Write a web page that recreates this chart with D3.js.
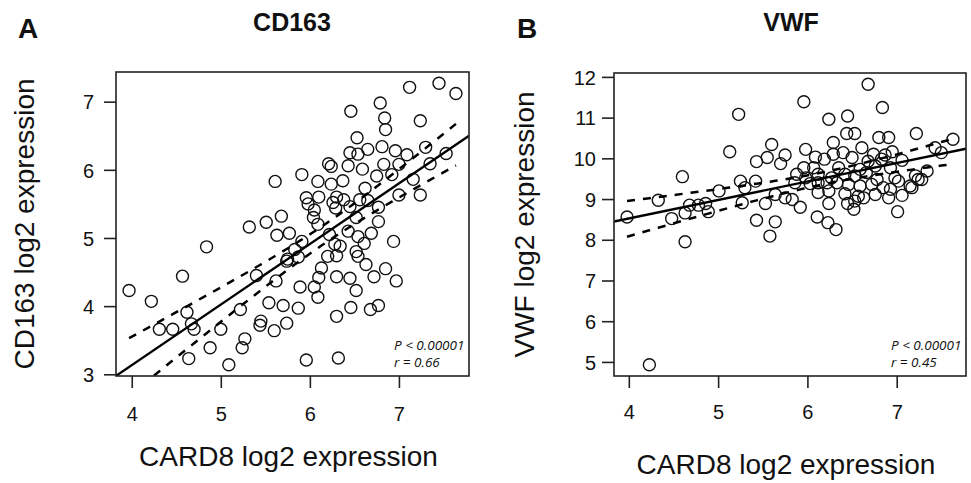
<!DOCTYPE html>
<html>
<head>
<meta charset="utf-8">
<script src="https://cdn.jsdelivr.net/npm/d3@7"></script>
<style>
  body { margin: 0; background: #fff; }
  svg text { font-family: Arial, "Liberation Sans", sans-serif; fill: #111; }
  .stat { font-family: "Open Sans", sans-serif; font-style: italic; }
</style>
</head>
<body>
<svg id="chart" width="971" height="483"></svg>
<script>
// values (CARD8 on x in both panels)
const card8A = [7.12,7.45,7.64,6.79,6.46,6.84,7.24,6.85,6.53,6.65,6.81,6.96,6.45,6.54,7.09,7.30,7.53,7.35,6.21,6.24,
  6.43,6.59,6.83,7.00,5.91,6.75,6.92,6.37,6.09,5.61,6.24,7.16,6.62,7.00,7.24,5.96,6.10,6.30,6.38,6.56,
  5.98,6.26,6.65,6.77,6.05,6.29,6.45,6.04,6.52,5.68,5.51,5.32,6.09,6.77,5.63,5.77,6.43,6.22,6.54,6.69,
  6.94,5.91,6.28,6.34,6.61,4.84,5.83,6.52,6.54,6.20,6.30,5.75,5.87,5.74,6.63,6.85,6.13,4.57,5.40,6.30,
  6.45,6.72,6.97,6.10,5.62,6.05,5.89,6.52,3.97,6.09,4.22,5.54,5.70,5.87,6.46,6.68,6.77,6.30,4.62,5.22,
  4.67,4.31,4.46,4.70,5.45,5.44,5.74,5.00,5.60,5.27,5.24,4.88,4.64,5.09,5.96,6.32];
const cd163 = [7.21,7.27,7.12,6.98,6.86,6.76,6.72,6.59,6.47,6.30,6.34,6.28,6.25,6.23,6.22,6.33,6.24,6.09,6.09,6.05,
  6.06,6.01,6.08,6.08,5.93,5.91,5.93,5.84,5.83,5.83,5.79,5.86,5.73,5.63,5.63,5.59,5.60,5.60,5.56,5.56,
  5.50,5.52,5.55,5.45,5.41,5.44,5.46,5.30,5.30,5.32,5.23,5.16,5.20,5.24,5.04,5.07,5.10,5.05,5.02,5.07,
  4.95,4.95,4.91,4.88,4.92,4.87,4.83,4.80,4.73,4.73,4.74,4.69,4.72,4.66,4.61,4.55,4.56,4.44,4.45,4.43,
  4.41,4.43,4.37,4.42,4.37,4.28,4.28,4.23,4.23,4.13,4.07,4.05,4.01,3.97,3.98,3.95,4.01,3.85,3.91,3.95,
  3.74,3.66,3.66,3.66,3.78,3.72,3.75,3.66,3.64,3.52,3.39,3.39,3.23,3.14,3.21,3.24];

const card8B = [6.68,5.96,6.84,5.23,6.24,6.45,6.44,6.53,6.29,6.80,6.91,7.22,7.63,5.60,5.98,6.61,6.74,6.40,6.29,5.13,
  5.75,5.55,5.43,5.70,6.09,6.19,6.95,7.43,7.50,7.06,6.87,6.68,6.83,6.50,5.96,6.07,6.35,6.59,6.76,6.93,
  4.60,5.25,5.42,5.88,5.98,6.12,6.27,6.42,6.53,6.66,6.78,6.98,7.21,7.34,7.24,5.86,6.03,6.12,6.22,6.33,
  6.46,6.59,6.72,6.85,7.02,7.15,7.28,5.30,5.01,4.33,5.64,5.75,6.12,6.24,6.42,6.57,6.76,6.93,7.06,7.17,
  4.68,4.78,4.86,5.53,5.83,5.92,6.24,6.45,6.53,6.63,6.91,4.89,4.63,4.48,3.98,5.27,6.52,7.01,6.11,6.23,
  6.32,5.43,5.64,5.58,4.63,4.23];
const vwf = [11.82,11.39,11.25,11.08,10.96,11.04,10.61,10.61,10.39,10.51,10.51,10.61,10.47,10.34,10.22,10.26,10.10,10.14,10.10,10.16,
  10.08,10.02,9.92,9.87,10.03,9.98,10.16,10.26,10.14,9.95,10.08,9.93,9.98,10.02,9.77,9.77,9.77,9.73,9.81,9.77,
  9.55,9.44,9.44,9.61,9.52,9.61,9.52,9.61,9.57,9.65,9.48,9.52,9.57,9.69,9.48,9.40,9.38,9.40,9.40,9.40,
  9.36,9.32,9.36,9.28,9.44,9.32,9.48,9.28,9.20,8.97,9.11,9.03,9.16,9.20,9.13,9.07,9.11,9.24,9.09,9.28,
  8.85,8.85,8.89,8.89,8.99,8.80,8.89,8.89,8.95,9.03,9.03,8.69,8.66,8.52,8.56,8.91,8.75,8.69,8.56,8.42,
  8.25,8.48,8.44,8.09,7.95,4.93];

const xTicks = [4, 5, 6, 7];
const yTicksA = [3, 4, 5, 6, 7];
const yTicksB = [5, 6, 7, 8, 9, 10, 11, 12];
const xLabel = "CARD8 log2 expression";

const panels = [
  { id: "A", title: "CD163", xs: card8A, ys: cd163, yTicks: yTicksA, yLabel: "CD163 log2 expression",
    stats: ["P < 0.00001", "r = 0.66"],
    box: { left: 116, right: 469, top: 72, bottom: 376 }, letterX: 18, titleX: 292, yLabelX: 34, xLabelY: 466,
    yPad: 10, xPad: 19 },
  { id: "B", title: "VWF", xs: card8B, ys: vwf, yTicks: yTicksB, yLabel: "VWF log2 expression",
    stats: ["P < 0.00001", "r = 0.45"],
    box: { left: 614, right: 966, top: 73, bottom: 376 }, letterX: 517, titleX: 791, yLabelX: 534, xLabelY: 474,
    yPad: 6, xPad: 17 }
];

const svg = d3.select("#chart");

// R-style axis range: data range padded by 4% on each side
function rRange(v) {
  const [lo, hi] = d3.extent(v);
  const pad = (hi - lo) * 0.04;
  return [lo - pad, hi + pad];
}

function fit(xs, ys) {
  const n = xs.length;
  const mx = d3.mean(xs), my = d3.mean(ys);
  let sxx = 0, sxy = 0;
  xs.forEach((x, i) => { sxx += (x - mx) ** 2; sxy += (x - mx) * (ys[i] - my); });
  const b = sxy / sxx, a = my - b * mx;
  let rss = 0;
  xs.forEach((x, i) => { rss += (ys[i] - a - b * x) ** 2; });
  const s = Math.sqrt(rss / (n - 2));
  const t = 1.98;
  const band = xs.slice().sort(d3.ascending).map(x => {
    const se = s * Math.sqrt(1 / n + (x - mx) ** 2 / sxx);
    return { x, lo: a + b * x - t * se, hi: a + b * x + t * se };
  });
  return { a, b, band };
}

panels.forEach(p => {
  const g = svg.append("g");
  const { left, right, top, bottom } = p.box;
  const x = d3.scaleLinear().domain(rRange(p.xs)).range([left, right]);
  const y = d3.scaleLinear().domain(rRange(p.ys)).range([bottom, top]);

  g.append("clipPath").attr("id", "clip" + p.id)
    .append("rect").attr("x", left).attr("y", top).attr("width", right - left).attr("height", bottom - top);

  // points
  g.append("g").selectAll("circle")
    .data(p.xs.map((v, i) => [v, p.ys[i]]))
    .join("circle")
    .attr("cx", d => x(d[0])).attr("cy", d => y(d[1])).attr("r", 6)
    .attr("fill", "none").attr("stroke", "#111").attr("stroke-width", 1.4);

  // regression line + 95% confidence band
  const f = fit(p.xs, p.ys);
  const lines = g.append("g").attr("clip-path", `url(#clip${p.id})`);
  const [x0, x1] = x.domain();
  lines.append("line")
    .attr("x1", x(x0)).attr("y1", y(f.a + f.b * x0))
    .attr("x2", x(x1)).attr("y2", y(f.a + f.b * x1))
    .attr("stroke", "#000").attr("stroke-width", 2.3);
  ["lo", "hi"].forEach(k => {
    lines.append("path")
      .attr("d", d3.line().x(d => x(d.x)).y(d => y(d[k]))(f.band))
      .attr("fill", "none").attr("stroke", "#000").attr("stroke-width", 2.5)
      .attr("stroke-dasharray", "8,8");
  });

  // box
  g.append("rect").attr("x", left).attr("y", top).attr("width", right - left).attr("height", bottom - top)
    .attr("fill", "none").attr("stroke", "#222").attr("stroke-width", 1.6);

  // axes
  const xAxis = g.append("g").attr("transform", `translate(0,${bottom})`)
    .call(d3.axisBottom(x).tickValues(xTicks).tickSize(12).tickPadding(p.xPad).tickFormat(d3.format("d")));
  const yAxis = g.append("g").attr("transform", `translate(${left},0)`)
    .call(d3.axisLeft(y).tickValues(p.yTicks).tickSize(12).tickPadding(p.yPad).tickFormat(d3.format("d")));
  [xAxis, yAxis].forEach(ax => {
    ax.select(".domain").remove();
    ax.selectAll("line").attr("stroke", "#222").attr("stroke-width", 1.6);
    ax.selectAll("text").attr("font-size", 20).attr("fill", "#111")
      .attr("font-family", "Arial, 'Liberation Sans', sans-serif");
  });
  yAxis.selectAll("text").attr("dy", "0.36em");

  // labels
  g.append("text").attr("x", p.letterX).attr("y", 38).attr("font-size", 28).attr("font-weight", "bold").text(p.id);
  g.append("text").attr("x", p.titleX).attr("y", 31).attr("text-anchor", "middle")
    .attr("font-size", 25).attr("font-weight", "bold").text(p.title);
  g.append("text").attr("x", (left + right) / 2 - 4).attr("y", p.xLabelY).attr("text-anchor", "middle")
    .attr("font-size", 28).text(xLabel);
  g.append("text").attr("transform", `translate(${p.yLabelX},${(top + bottom) / 2}) rotate(-90)`)
    .attr("text-anchor", "middle").attr("font-size", 28).text(p.yLabel);
  p.stats.forEach((s, i) => {
    g.append("text").attr("class", "stat").attr("x", right - 75).attr("y", 350 + i * 17)
      .attr("font-size", 13.5).text(s);
  });
});
</script>
</body>
</html>
